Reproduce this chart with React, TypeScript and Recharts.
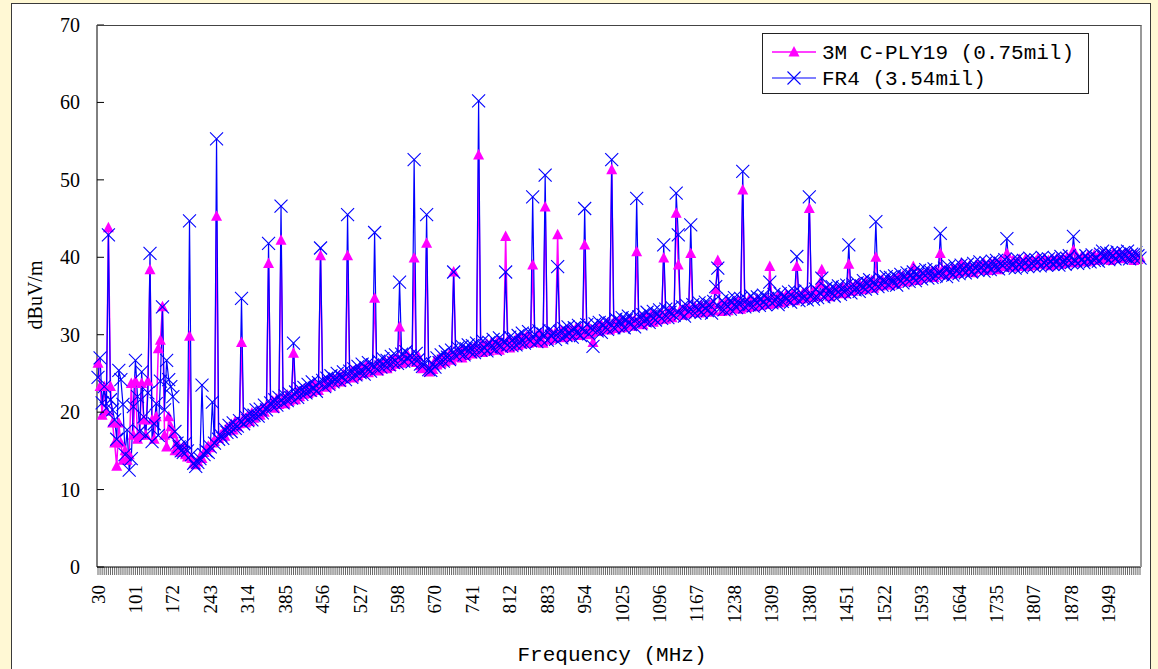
import React from 'react';
import { LineChart, Line, XAxis, YAxis, Legend } from 'recharts';

// Frequency sweep: 30 MHz start, step 1970/499 MHz, one category per sweep point
const FREQ_START = 30;
const FREQ_STEP = 1970 / 499;
const LABEL_EVERY = 18;
const TICK_LABELS = [
  '30', '101', '172', '243', '314', '385', '456', '527', '598', '670', '741', '812', '883', '954',
  '1025', '1096', '1167', '1238', '1309', '1380', '1451', '1522', '1593', '1664', '1735', '1807', '1878', '1949',
];
const Y_TICKS = [0, 10, 20, 30, 40, 50, 60, 70];
const SERIES_NAMES = ['3M C-PLY19 (0.75mil)', 'FR4 (3.54mil)'];

const FR4 = [
  24.5, 27.0, 21.2, 23.3, 20.5, 42.9, 21.6, 20.3, 19.0, 16.5, 25.4, 24.2, 21.0, 14.5, 17.7, 12.5, 14.0, 20.7, 26.7, 22.0,
  17.5, 25.2, 19.4, 17.0, 22.5, 40.5, 16.2, 18.5, 21.1, 17.0, 24.0, 33.6, 20.3, 26.7, 24.2, 23.3, 22.0, 17.5, 16.0, 15.5,
  15.0, 14.8, 16.0, 15.0, 44.7, 14.5, 13.4, 13.0, 13.5, 14.0, 23.5, 14.5, 15.0, 14.8, 15.5, 21.3, 16.0, 55.3, 16.5, 17.0,
  16.6, 17.8, 17.4, 18.3, 17.5, 18.6, 17.9, 18.2, 18.9, 34.7, 18.5, 19.4, 18.9, 19.8, 19.0, 19.6, 20.3, 19.5, 20.4, 19.9,
  20.9, 20.3, 41.8, 21.2, 20.7, 21.6, 20.9, 21.9, 46.6, 21.2, 22.1, 21.5, 22.4, 21.8, 28.9, 22.6, 21.9, 23.0, 22.3, 23.2,
  22.5, 23.6, 22.8, 23.9, 23.1, 22.7, 23.8, 41.2, 24.1, 23.3, 24.4, 23.6, 24.7, 23.9, 24.3, 25.0, 24.1, 24.6, 25.2, 24.2,
  45.5, 25.3, 24.5, 25.6, 24.8, 25.9, 25.1, 26.2, 24.9, 25.7, 26.4, 25.3, 26.1, 43.2, 25.6, 26.6, 25.8, 26.9, 26.0, 26.7,
  26.1, 27.2, 26.4, 27.4, 26.3, 36.8, 27.5, 26.6, 27.8, 26.9, 27.3, 26.5, 52.6, 27.6, 26.8, 26.2, 25.9, 26.4, 45.5, 25.5,
  25.4, 26.2, 25.8, 27.0, 26.4, 27.4, 26.6, 27.8, 27.1, 26.8, 28.0, 38.1, 27.3, 28.3, 27.6, 28.5, 27.4, 28.2, 28.7, 27.8,
  28.6, 27.7, 28.9, 60.2, 28.0, 29.2, 28.3, 27.9, 29.0, 28.4, 29.4, 28.1, 28.8, 29.6, 28.5, 29.1, 38.1, 28.7, 29.7, 28.6,
  29.5, 28.7, 29.9, 29.0, 30.2, 28.9, 29.7, 30.4, 29.2, 47.8, 30.0, 29.1, 30.5, 29.4, 30.1, 50.6, 29.3, 30.6, 29.8, 30.3,
  29.4, 38.8, 30.4, 29.6, 30.8, 29.9, 31.0, 30.2, 29.7, 30.9, 30.3, 31.2, 29.9, 30.7, 46.3, 31.3, 30.1, 30.9, 28.5, 31.4,
  30.5, 31.6, 30.3, 31.2, 31.8, 30.7, 31.5, 52.6, 30.9, 32.0, 31.1, 31.7, 32.2, 30.9, 31.9, 32.4, 31.3, 32.1, 31.0, 47.6,
  32.3, 31.4, 32.6, 31.8, 32.9, 31.6, 32.4, 33.0, 31.9, 32.7, 33.2, 32.1, 41.6, 33.3, 32.2, 32.9, 33.5, 32.5, 48.3, 42.9,
  32.7, 33.6, 32.4, 33.8, 33.0, 44.2, 33.9, 32.8, 33.5, 34.1, 32.9, 33.7, 34.2, 33.1, 33.9, 32.8, 34.3, 36.2, 38.6, 33.4,
  34.4, 33.2, 33.9, 34.6, 33.3, 34.2, 34.8, 33.5, 34.0, 34.7, 51.1, 33.6, 34.5, 33.9, 35.0, 33.7, 34.4, 34.9, 33.8, 34.6,
  35.1, 33.9, 34.7, 36.8, 34.1, 35.2, 34.5, 33.9, 35.3, 34.3, 35.0, 34.6, 35.5, 34.2, 34.9, 35.6, 40.1, 34.4, 35.4, 34.7,
  35.7, 34.5, 47.8, 35.2, 34.6, 35.9, 34.8, 35.4, 37.3, 34.9, 36.0, 35.1, 35.7, 36.2, 35.0, 35.8, 36.3, 35.2, 36.1, 35.5,
  36.4, 41.6, 35.4, 36.5, 35.8, 36.7, 35.6, 36.3, 37.0, 35.9, 36.6, 37.1, 36.0, 36.8, 44.6, 36.2, 37.3, 36.4, 37.0, 37.5,
  36.5, 37.4, 36.8, 37.6, 36.4, 37.2, 37.8, 36.7, 37.5, 38.0, 36.9, 37.7, 38.1, 37.0, 37.8, 38.3, 37.2, 37.9, 38.4, 37.3,
  38.2, 37.4, 38.5, 37.6, 38.0, 43.1, 37.8, 38.6, 37.5, 38.8, 38.1, 37.7, 38.9, 38.3, 37.9, 39.0, 38.4, 38.0, 39.1, 38.5,
  38.1, 39.2, 38.6, 38.3, 39.4, 38.7, 38.2, 39.3, 38.9, 38.4, 39.5, 38.8, 39.6, 38.5, 39.2, 38.9, 39.7, 42.4, 38.7, 39.5,
  39.0, 38.6, 39.8, 39.1, 38.7, 39.6, 39.3, 38.8, 39.9, 39.2, 38.9, 39.7, 39.4, 38.9, 40.0, 39.3, 39.0, 39.8, 39.5, 39.1,
  39.9, 39.4, 39.0, 40.1, 39.5, 39.1, 39.8, 40.2, 39.3, 42.7, 39.6, 39.2, 40.1, 39.7, 39.3, 40.2, 39.8, 39.4, 40.3, 39.6,
  40.0, 39.5, 40.4, 40.8, 40.1, 40.6, 39.7, 40.5, 40.2, 39.8, 40.7, 40.3, 39.9, 40.6, 40.1, 40.8, 39.8, 40.4, 40.0, 40.6,
  40.2, 39.9,
];

const CPLY = [
  26.3, 23.3, 19.6, 23.3, 20.1, 43.8, 23.3, 18.6, 16.0, 13.0, 18.6, 16.0, 13.8, 15.0, 13.8, 14.5, 23.7, 17.0, 24.0, 16.5,
  17.0, 23.7, 19.0, 17.0, 24.0, 38.4, 19.0, 16.5, 19.4, 28.2, 29.3, 33.6, 17.0, 15.5, 19.4, 18.1, 17.2, 15.0, 16.0, 15.0,
  14.8, 15.5, 14.5, 14.2, 29.8, 14.0, 13.4, 13.2, 13.6, 14.2, 14.0, 14.8, 15.2, 15.6, 15.4, 16.0, 16.2, 45.3, 16.6, 17.0,
  17.3, 16.9, 18.0, 17.6, 18.4, 17.7, 18.8, 18.1, 18.5, 29.0, 19.2, 18.6, 19.5, 18.8, 19.9, 19.2, 19.7, 20.1, 19.6, 20.5,
  20.0, 20.8, 39.2, 20.6, 21.4, 20.5, 21.7, 21.0, 42.2, 21.8, 21.1, 22.2, 21.4, 22.0, 27.6, 21.6, 22.7, 22.0, 22.9, 22.3,
  23.1, 22.4, 23.4, 22.6, 23.7, 23.2, 22.8, 40.2, 23.5, 24.0, 23.2, 24.2, 23.5, 24.4, 23.8, 24.0, 24.7, 23.9, 24.9, 24.3,
  40.2, 24.6, 25.3, 24.4, 25.5, 24.7, 25.8, 25.0, 25.6, 26.0, 25.1, 25.9, 25.4, 34.7, 26.2, 25.3, 26.1, 25.7, 26.5, 25.6,
  26.6, 25.9, 26.8, 26.2, 27.0, 31.0, 26.3, 27.1, 26.5, 27.3, 26.7, 27.0, 39.9, 26.4, 27.2, 26.0, 25.6, 25.8, 41.8, 25.2,
  25.9, 25.5, 26.6, 26.1, 26.9, 26.3, 27.2, 26.5, 27.0, 27.5, 26.7, 38.1, 27.6, 27.1, 27.9, 27.0, 28.1, 27.3, 27.6, 28.3,
  27.5, 28.4, 27.8, 53.2, 28.6, 27.7, 28.5, 28.8, 27.9, 28.9, 28.2, 28.6, 29.1, 28.0, 29.0, 28.4, 42.7, 29.2, 28.3, 29.0,
  28.5, 29.4, 28.6, 29.6, 28.8, 29.5, 29.8, 28.9, 29.7, 39.0, 29.0, 29.9, 29.2, 30.1, 28.9, 46.5, 30.0, 29.3, 30.2, 29.5,
  30.3, 42.9, 29.7, 30.5, 29.6, 30.4, 30.7, 29.8, 30.6, 30.0, 30.9, 29.9, 30.8, 30.2, 41.6, 30.0, 31.0, 30.3, 29.0, 30.8,
  31.1, 30.4, 31.3, 30.7, 31.0, 31.5, 30.6, 51.3, 31.6, 30.8, 31.4, 31.9, 30.9, 31.7, 31.2, 31.8, 32.0, 31.1, 31.9, 40.7,
  31.5, 32.2, 31.3, 32.4, 31.7, 32.1, 32.6, 31.6, 32.5, 31.9, 32.3, 32.8, 39.9, 32.0, 32.7, 33.1, 32.2, 32.9, 45.7, 39.0,
  33.2, 32.5, 33.4, 32.7, 33.5, 40.5, 32.9, 33.6, 33.2, 32.8, 33.8, 33.0, 33.5, 32.9, 33.7, 34.0, 33.1, 35.8, 39.6, 33.9,
  33.0, 33.8, 34.2, 33.1, 33.9, 33.4, 34.3, 33.6, 34.4, 33.3, 48.7, 34.1, 33.5, 34.5, 33.7, 34.3, 33.6, 34.6, 34.0, 33.8,
  34.4, 34.7, 33.9, 38.8, 34.8, 34.0, 34.6, 35.0, 34.1, 34.9, 34.3, 35.2, 34.5, 34.8, 35.3, 34.4, 38.8, 35.1, 34.6, 35.4,
  34.7, 35.5, 46.3, 34.8, 35.6, 35.1, 34.9, 36.6, 38.4, 35.7, 35.2, 35.9, 34.9, 35.6, 35.3, 36.0, 35.4, 35.8, 36.2, 35.3,
  35.9, 39.1, 36.3, 35.6, 36.4, 35.9, 36.6, 36.1, 35.8, 36.8, 36.2, 36.5, 37.0, 36.0, 40.0, 36.7, 36.3, 37.1, 36.5, 36.9,
  37.2, 36.4, 37.0, 37.3, 36.6, 37.5, 36.9, 37.6, 37.1, 36.8, 37.7, 37.2, 38.8, 37.4, 37.0, 37.9, 37.3, 37.8, 37.5, 38.1,
  37.6, 38.2, 37.4, 38.3, 37.9, 40.5, 38.4, 37.7, 38.5, 38.0, 37.8, 38.6, 38.2, 37.9, 38.7, 39.2, 38.3, 38.8, 38.1, 38.9,
  38.5, 38.0, 38.9, 39.1, 38.4, 38.8, 39.2, 38.6, 38.3, 39.3, 38.7, 39.4, 38.9, 38.4, 39.5, 38.8, 39.1, 40.5, 39.3, 38.7,
  39.6, 39.2, 38.8, 39.7, 39.0, 38.9, 39.8, 38.8, 39.4, 39.6, 38.9, 39.5, 39.9, 39.1, 39.3, 39.8, 39.1, 39.6, 38.9, 39.7,
  39.2, 39.8, 39.6, 39.1, 39.9, 39.4, 40.0, 39.3, 39.7, 40.9, 39.3, 39.9, 39.5, 40.1, 39.6, 39.4, 40.2, 39.5, 39.9, 40.3,
  39.6, 40.2, 39.8, 40.4, 39.7, 40.3, 40.1, 39.6, 40.5, 39.9, 40.2, 40.6, 39.8, 40.3, 40.5, 39.9, 40.4, 40.1, 39.6, 40.3,
  39.7, 40.0,
];

const PINK = '#FF00FF';
const BLUE = '#0000FF';
const SERIF = '"Liberation Serif", "Times New Roman", serif';
const MONO = '"Liberation Mono", "Courier New", monospace';

const data = FR4.map((v, i) => ({
  freq: Math.round(FREQ_START + i * FREQ_STEP),
  cply: CPLY[i],
  fr4: v,
}));

const triPath = (cx: number, cy: number) =>
  `M${cx},${cy - 6} L${cx + 5.5},${cy + 4.5} L${cx - 5.5},${cy + 4.5} Z`;

const TriangleDot = (props: any) => {
  const { cx, cy, index } = props;
  if (cx == null || cy == null) return <g key={`t${index}`} />;
  return <path key={`t${index}`} d={triPath(cx, cy)} fill={PINK} stroke="none" />;
};

const XDot = (props: any) => {
  const { cx, cy, index } = props;
  if (cx == null || cy == null) return <g key={`x${index}`} />;
  const s = 6.5;
  return (
    <g key={`x${index}`}>
      <line x1={cx - s} y1={cy - s} x2={cx + s} y2={cy + s} stroke={BLUE} strokeWidth={1.1} />
      <line x1={cx - s} y1={cy + s} x2={cx + s} y2={cy - s} stroke={BLUE} strokeWidth={1.1} />
    </g>
  );
};

const XTick = (props: any) => {
  const { x, y, payload } = props;
  const idx = props.index ?? payload.index;
  const showLabel = idx % LABEL_EVERY === 0 && TICK_LABELS[idx / LABEL_EVERY] !== undefined;
  const ty = y + 18;
  return (
    <g>
      <line x1={x} x2={x} y1={y} y2={y + 8} stroke="#000" strokeOpacity={0.6} strokeWidth={1} />
      {showLabel && (
        <text
          x={x}
          y={ty}
          transform={`rotate(-90, ${x}, ${ty})`}
          textAnchor="end"
          dominantBaseline="central"
          fontFamily={SERIF}
          fontSize={19}
          fill="#000"
        >
          {TICK_LABELS[idx / LABEL_EVERY]}
        </text>
      )}
    </g>
  );
};

const YTick = (props: any) => {
  const { x, y, payload } = props;
  return (
    <g>
      <line x1={x} x2={x + 7} y1={y} y2={y} stroke="#000" strokeWidth={1} />
      <text x={x - 17} y={y} textAnchor="end" dominantBaseline="central" fontFamily={SERIF} fontSize={20} fill="#000">
        {payload.value}
      </text>
    </g>
  );
};

const LegendBox = () => (
  <svg width={327} height={61} style={{ display: 'block' }}>
    <rect x={0.5} y={0.5} width={326} height={60} fill="#fff" stroke="#222" strokeWidth={1} />
    <line x1={10} x2={54} y1={19} y2={19} stroke={PINK} strokeWidth={1.5} />
    <path d={triPath(32, 19)} fill={PINK} />
    <text x={60} y={26} fontFamily={MONO} fontSize={21} fill="#000">
      {SERIES_NAMES[0]}
    </text>
    <line x1={10} x2={54} y1={45} y2={45} stroke={BLUE} strokeWidth={1.2} />
    <line x1={25.5} y1={38.5} x2={38.5} y2={51.5} stroke={BLUE} strokeWidth={1.1} />
    <line x1={25.5} y1={51.5} x2={38.5} y2={38.5} stroke={BLUE} strokeWidth={1.1} />
    <text x={60} y={52} fontFamily={MONO} fontSize={21} fill="#000">
      {SERIES_NAMES[1]}
    </text>
  </svg>
);

const YTitle = () => (
  <text
    x={35}
    y={295}
    transform="rotate(-90, 35, 295)"
    textAnchor="middle"
    dominantBaseline="central"
    fontFamily={SERIF}
    fontSize={20}
    fill="#000"
  >
    dBuV/m
  </text>
);

const XTitle = () => (
  <text x={612} y={661} textAnchor="middle" fontFamily={MONO} fontSize={21} fill="#000">
    Frequency (MHz)
  </text>
);

export default function App() {
  return (
    <div
      style={{
        position: 'fixed',
        left: 0,
        top: 0,
        width: 1158,
        height: 669,
        background: '#FFF8D4',
        overflow: 'hidden',
      }}
    >
      <div
        style={{
          position: 'absolute',
          left: 11,
          top: 3,
          width: 1138,
          height: 700,
          background: '#fff',
          border: '1px solid #3a3a3a',
        }}
      />
      <div style={{ position: 'absolute', left: 0, top: 0 }}>
        <LineChart width={1158} height={669} data={data} margin={{ top: 25, right: 17, left: 37, bottom: 0 }}>
          <XAxis
            dataKey="freq"
            interval={0}
            tick={XTick}
            tickLine={false}
            tickSize={0}
            tickMargin={0}
            axisLine={{ stroke: '#000', strokeWidth: 1 }}
            height={102}
            padding={{ left: 1, right: 1 }}
            label={<XTitle />}
          />
          <YAxis
            type="number"
            domain={[0, 70]}
            ticks={Y_TICKS}
            interval={0}
            tick={YTick}
            tickLine={false}
            tickSize={0}
            tickMargin={0}
            axisLine={{ stroke: '#000', strokeWidth: 1 }}
            width={60}
            allowDataOverflow
            label={<YTitle />}
          />
          <Legend
            layout="vertical"
            verticalAlign="middle"
            align="center"
            content={() => <LegendBox />}
            wrapperStyle={{ position: 'absolute', left: 762, top: 33, width: 327, height: 61 }}
          />
          <Line
            type="linear"
            dataKey="cply"
            name={SERIES_NAMES[0]}
            stroke={PINK}
            strokeWidth={1.5}
            dot={TriangleDot}
            activeDot={false}
            isAnimationActive={false}
          />
          <Line
            type="linear"
            dataKey="fr4"
            name={SERIES_NAMES[1]}
            stroke={BLUE}
            strokeWidth={1.2}
            dot={XDot}
            activeDot={false}
            isAnimationActive={false}
          />
        </LineChart>
      </div>
      <div
        style={{
          position: 'absolute',
          left: 97,
          top: 25,
          width: 1043,
          height: 541,
          borderTop: '1px solid #444',
          borderRight: '2px solid #999',
          pointerEvents: 'none',
        }}
      />
    </div>
  );
}
